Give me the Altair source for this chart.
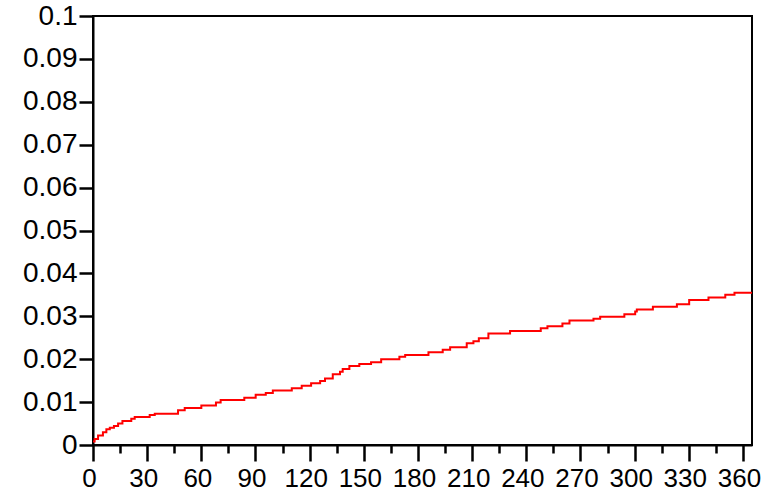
import altair as alt
import pandas as pd

# Step-function (cumulative incidence)
days = [0, 0.9, 2.8, 5.5, 7.4, 9.3, 11.6, 13.9, 16.3, 21.2,
        23.1, 31.4, 34.2, 47.1, 50.8, 60.0, 68.1, 70.7, 83.8, 90.1,
        95.7, 99.6, 110.1, 115.6, 120.8, 125.8, 128.5, 132.8, 136.8, 138.3,
        142.0, 147.5, 154.0, 159.6, 169.7, 172.9, 185.8, 193.7, 197.8, 207.0,
        210.7, 213.7, 219.0, 231.0, 248.0, 251.7, 260.0, 263.9, 277.2, 280.9,
        294.3, 300.3, 301.2, 310.1, 323.4, 330.2, 340.9, 350.2, 355.3, 365]
values = [0.0008, 0.0014, 0.0022, 0.0030, 0.0037, 0.0040, 0.0044, 0.0050, 0.0056, 0.0061,
          0.0065, 0.0070, 0.0073, 0.0081, 0.0086, 0.0092, 0.0099, 0.0105, 0.0110, 0.0117,
          0.0121, 0.0127, 0.0132, 0.0138, 0.0144, 0.0149, 0.0155, 0.0165, 0.0171, 0.0177,
          0.0184, 0.0189, 0.0193, 0.0200, 0.0206, 0.0210, 0.0216, 0.0222, 0.0228, 0.0237,
          0.0242, 0.0249, 0.0260, 0.0266, 0.0272, 0.0277, 0.0283, 0.0290, 0.0294, 0.0299,
          0.0305, 0.0311, 0.0316, 0.0322, 0.0328, 0.0338, 0.0344, 0.0350, 0.0355, 0.0355]

x_major = [0, 30, 60, 90, 120, 150, 180, 210, 240, 270, 300, 330, 360]
x_minor = [15, 45, 75, 105, 135, 165, 195, 225, 255, 285, 315, 345]
y_ticks = [0, 0.01, 0.02, 0.03, 0.04, 0.05, 0.06, 0.07, 0.08, 0.09, 0.1]

df = pd.DataFrame({"day": days, "value": values})

xscale = alt.Scale(domain=[0, 365], nice=False, zero=False)
yscale = alt.Scale(domain=[0, 0.1], nice=False)

major_axis = alt.Axis(
    orient="bottom", values=x_major, title=None, grid=False,
    tickSize=16, tickWidth=2.5, tickColor="black",
    domain=True, domainWidth=2, domainColor="black",
    labelFont="Liberation Sans", labelFontSize=26, labelColor="black",
    labelPadding=4, labelOffset=-4, labelFlush=False, labelOverlap=False,
)
minor_axis = alt.Axis(
    orient="bottom", values=x_minor, title=None, grid=False, labels=False,
    tickSize=8, tickWidth=2.5, tickColor="black", domain=False,
)
y_axis = alt.Axis(
    orient="left", values=y_ticks, format="~g", title=None, grid=False,
    tickSize=14, tickWidth=2.5, tickColor="black",
    domain=True, domainWidth=2, domainColor="black",
    labelFont="Liberation Sans", labelFontSize=28, labelColor="black",
    labelPadding=2, labelOverlap=False, labelFlush=False,
)

line = alt.Chart(df).mark_line(
    interpolate="step-after", color="#ff0000", strokeWidth=2, clip=True
).encode(
    x=alt.X("day:Q", scale=xscale, axis=major_axis),
    y=alt.Y("value:Q", scale=yscale, axis=y_axis),
)

minor = alt.Chart(df).mark_line(opacity=0).encode(
    x=alt.X("day:Q", scale=xscale, axis=minor_axis),
    y=alt.Y("value:Q", scale=yscale, axis=y_axis),
)

chart = alt.layer(line, minor).resolve_axis(x="independent").properties(
    width=659, height=429,
    padding={"left": 93, "top": 16, "right": 12, "bottom": 52},
    autosize="none",
    background="white",
).configure_view(stroke="black", strokeWidth=2)

chart.save("out.html", embed_options={"renderer": "svg", "actions": False})
